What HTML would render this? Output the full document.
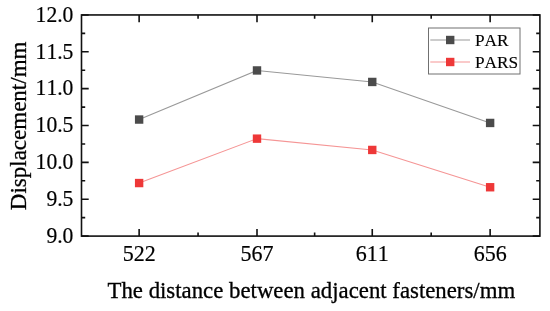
<!DOCTYPE html><html><head><meta charset="utf-8"><style>html,body{margin:0;padding:0;background:#fff;}svg{display:block;}text{font-family:"Liberation Serif","Times New Roman",serif;fill:#000;font-kerning:none;font-feature-settings:"kern" 0;stroke:#000;stroke-width:0.3px;}.tl{stroke-width:0.2px;}.lg{stroke-width:0.12px;}</style></head><body>
<svg width="550" height="311" viewBox="0 0 550 311">
<rect width="550" height="311" fill="#fff"/>
<polyline points="139.13,119.55 257.00,70.45 372.26,81.95 490.13,122.95" fill="none" stroke="#999999" stroke-width="1.1"/>
<polyline points="139.13,183.05 257.00,138.65 372.26,149.95 490.13,187.25" fill="none" stroke="#f59595" stroke-width="1.1"/>
<rect x="134.93" y="115.35" width="8.4" height="8.4" fill="#4b4b4b"/>
<rect x="252.80" y="66.25" width="8.4" height="8.4" fill="#4b4b4b"/>
<rect x="368.06" y="77.75" width="8.4" height="8.4" fill="#4b4b4b"/>
<rect x="485.93" y="118.75" width="8.4" height="8.4" fill="#4b4b4b"/>
<rect x="134.93" y="178.85" width="8.4" height="8.4" fill="#ee3838"/>
<rect x="252.80" y="134.45" width="8.4" height="8.4" fill="#ee3838"/>
<rect x="368.06" y="145.75" width="8.4" height="8.4" fill="#ee3838"/>
<rect x="485.93" y="183.05" width="8.4" height="8.4" fill="#ee3838"/>
<path d="M81.5,236.10h7.2M539.9,236.10h-7.2M81.5,199.24h7.2M539.9,199.24h-7.2M81.5,162.38h7.2M539.9,162.38h-7.2M81.5,125.53h7.2M539.9,125.53h-7.2M81.5,88.67h7.2M539.9,88.67h-7.2M81.5,51.81h7.2M539.9,51.81h-7.2M81.5,14.95h7.2M539.9,14.95h-7.2M81.5,217.67h3.7M539.9,217.67h-3.7M81.5,180.81h3.7M539.9,180.81h-3.7M81.5,143.95h3.7M539.9,143.95h-3.7M81.5,107.10h3.7M539.9,107.10h-3.7M81.5,70.24h3.7M539.9,70.24h-3.7M81.5,33.38h3.7M539.9,33.38h-3.7M139.13,236.1v-7.2M139.13,14.95v7.2M257.00,236.1v-7.2M257.00,14.95v7.2M372.26,236.1v-7.2M372.26,14.95v7.2M490.13,236.1v-7.2M490.13,14.95v7.2M198.06,236.1v-3.7M198.06,14.95v3.7M314.63,236.1v-3.7M314.63,14.95v3.7M431.19,236.1v-3.7M431.19,14.95v3.7" stroke="#111" stroke-width="1.6" fill="none"/>
<rect x="81.5" y="14.95" width="458.40" height="221.15" fill="none" stroke="#111" stroke-width="1.6"/>
<text class="tl" transform="translate(73.4,242.90) scale(0.94,1)" text-anchor="end" font-size="23">9.0</text>
<text class="tl" transform="translate(73.4,206.04) scale(0.94,1)" text-anchor="end" font-size="23">9.5</text>
<text class="tl" transform="translate(73.4,169.18) scale(0.94,1)" text-anchor="end" font-size="23">10.0</text>
<text class="tl" transform="translate(73.4,132.33) scale(0.94,1)" text-anchor="end" font-size="23">10.5</text>
<text class="tl" transform="translate(73.4,95.47) scale(0.94,1)" text-anchor="end" font-size="23">11.0</text>
<text class="tl" transform="translate(73.4,58.61) scale(0.94,1)" text-anchor="end" font-size="23">11.5</text>
<text class="tl" transform="translate(73.4,21.75) scale(0.94,1)" text-anchor="end" font-size="23">12.0</text>
<text class="tl" transform="translate(139.13,260.95) scale(0.957,1)" text-anchor="middle" font-size="23">522</text>
<text class="tl" transform="translate(257.00,260.95) scale(0.957,1)" text-anchor="middle" font-size="23">567</text>
<text class="tl" transform="translate(372.26,260.95) scale(0.957,1)" text-anchor="middle" font-size="23">611</text>
<text class="tl" transform="translate(490.13,260.95) scale(0.957,1)" text-anchor="middle" font-size="23">656</text>
<text x="107.5" y="298" font-size="22.8">The distance between adjacent fasteners/mm</text>
<text transform="translate(26,210.2) rotate(-90)" font-size="23.0">Displacement/mm</text>
<rect x="428.5" y="28" width="91.5" height="46" fill="#fff" stroke="#707070" stroke-width="1"/>
<line x1="430.3" y1="40" x2="470" y2="40" stroke="#999999" stroke-width="1.1"/>
<line x1="430.3" y1="62" x2="470" y2="62" stroke="#f59595" stroke-width="1.1"/>
<rect x="446.0" y="35.8" width="8.4" height="8.4" fill="#4b4b4b"/>
<rect x="446.0" y="57.8" width="8.4" height="8.4" fill="#ee3838"/>
<text class="lg" x="474.9" y="45.8" font-size="17.3">PAR</text>
<text class="lg" x="474.9" y="67.8" font-size="17.3">PARS</text>
</svg></body></html>
